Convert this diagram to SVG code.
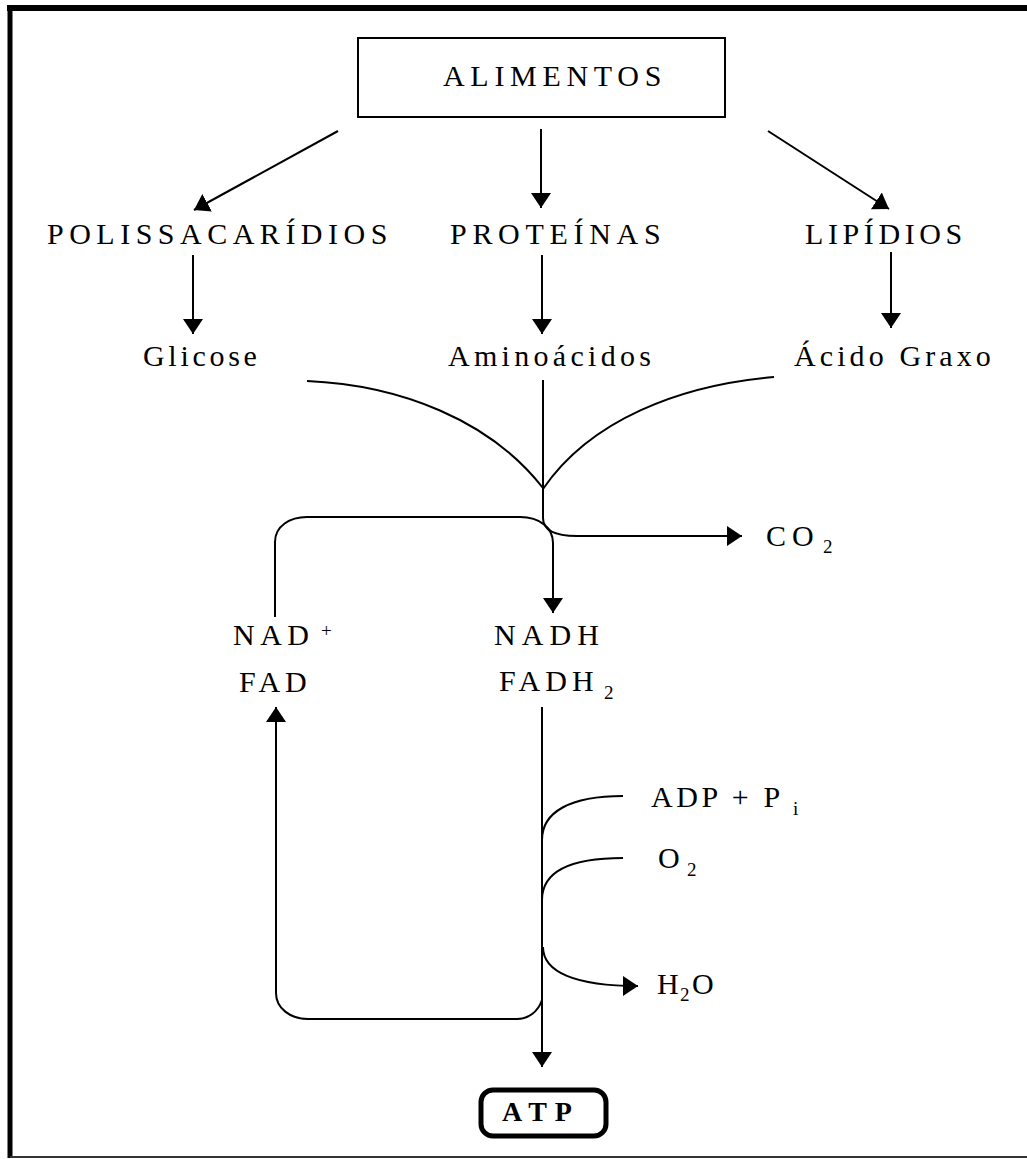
<svg xmlns="http://www.w3.org/2000/svg" width="1027" height="1159" viewBox="0 0 1027 1159">
<defs>
<style>
.t{font-family:"Liberation Serif","Times New Roman",serif;font-size:30px;fill:#000}
.s{font-family:"Liberation Serif","Times New Roman",serif;font-size:19px;fill:#000}
.b{font-family:"Liberation Serif","Times New Roman",serif;font-size:28px;font-weight:bold;fill:#000}
.c{fill:none;stroke:#000;stroke-width:2}
</style>
<marker id="ah" markerUnits="userSpaceOnUse" markerWidth="16" markerHeight="22" refX="15" refY="10" orient="auto">
<path d="M0,0 L15,10 L0,20 z" fill="#000"/>
</marker>
</defs>
<rect x="0" y="0" width="1027" height="1159" fill="#fff"/>
<g id="frame">
<line x1="10" y1="5" x2="10" y2="1158" stroke="#000" stroke-width="5"/>
<line x1="7" y1="8" x2="1027" y2="8" stroke="#000" stroke-width="6"/>
<line x1="10" y1="1157" x2="1027" y2="1157" stroke="#333" stroke-width="2"/>
</g>
<g id="connectors">
<path class="c" d="M338,131 L194,210" marker-end="url(#ah)"/>
<path class="c" d="M541,129 L541,208" marker-end="url(#ah)"/>
<path class="c" d="M768,131 L889,209" marker-end="url(#ah)"/>
<path class="c" d="M193,255 L193,334" marker-end="url(#ah)"/>
<path class="c" d="M542,255 L542,334" marker-end="url(#ah)"/>
<path class="c" d="M891,252 L891,328" marker-end="url(#ah)"/>
<path class="c" d="M307,381 C400,385 490,420 543,488"/>
<path class="c" d="M774,377 C680,385 590,420 543,489"/>
<path class="c" d="M543,380 L543,518 C543,530 555,536 577,536 L742,536" marker-end="url(#ah)"/>
<path class="c" d="M275,617 L275,542 C275,526 290,517 307,517 L520,517 C540,517 553,528 553,543 L553,613" marker-end="url(#ah)"/>
<path class="c" d="M542,707 L542,1067" marker-end="url(#ah)"/>
<path class="c" d="M542,840 C542,812 570,796 623,796"/>
<path class="c" d="M542,900 C542,872 570,858 623,858"/>
<path class="c" d="M543,947 C543,972 575,986 638,986" marker-end="url(#ah)"/>
<path class="c" d="M542,1000 C538,1012 528,1019 517,1019 L308,1019 C290,1019 276,1008 276,993 L276,707" marker-end="url(#ah)"/>
</g>
<g id="alimentos">
<rect x="358" y="38" width="367" height="79" fill="none" stroke="#000" stroke-width="2"/>
<text class="t" x="443" y="86" letter-spacing="5.7">ALIMENTOS</text>
</g>
<g id="polissacaridios"><text class="t" x="47" y="244" letter-spacing="5.5">POLISSACARÍDIOS</text></g>
<g id="proteinas"><text class="t" x="450" y="244" letter-spacing="5.7">PROTEÍNAS</text></g>
<g id="lipidios"><text class="t" x="805" y="244" letter-spacing="4.6">LIPÍDIOS</text></g>
<g id="glicose"><text class="t" x="143" y="366" letter-spacing="3.7">Glicose</text></g>
<g id="aminoacidos"><text class="t" x="448" y="366" letter-spacing="4.3">Aminoácidos</text></g>
<g id="acido-graxo"><text class="t" x="794" y="366" letter-spacing="4.1">Ácido Graxo</text></g>
<g id="co2"><text class="t" x="766" y="546" letter-spacing="6">CO</text><text class="s" x="823" y="553">2</text></g>
<g id="nad-fad">
<text class="t" x="233" y="645" letter-spacing="5.5">NAD</text><text class="s" x="321" y="637">+</text>
<text class="t" x="239" y="692" letter-spacing="5">FAD</text>
</g>
<g id="nadh-fadh2">
<text class="t" x="494" y="645" letter-spacing="6.1">NADH</text>
<text class="t" x="499" y="691" letter-spacing="5.1">FADH</text><text class="s" x="604" y="699">2</text>
</g>
<g id="adp-pi"><text class="t" x="651" y="807" letter-spacing="3.6">ADP + P</text><text class="s" x="793" y="815">i</text></g>
<g id="o2"><text class="t" x="658" y="868">O</text><text class="s" x="687" y="876">2</text></g>
<g id="h2o"><text class="t" x="657" y="994">H</text><text class="s" x="680" y="1001">2</text><text class="t" x="692" y="994">O</text></g>
<g id="atp">
<rect x="481" y="1090" width="125" height="46" rx="12" ry="12" fill="none" stroke="#000" stroke-width="5"/>
<text class="b" x="502" y="1121" letter-spacing="8">ATP</text>
</g>
</svg>
